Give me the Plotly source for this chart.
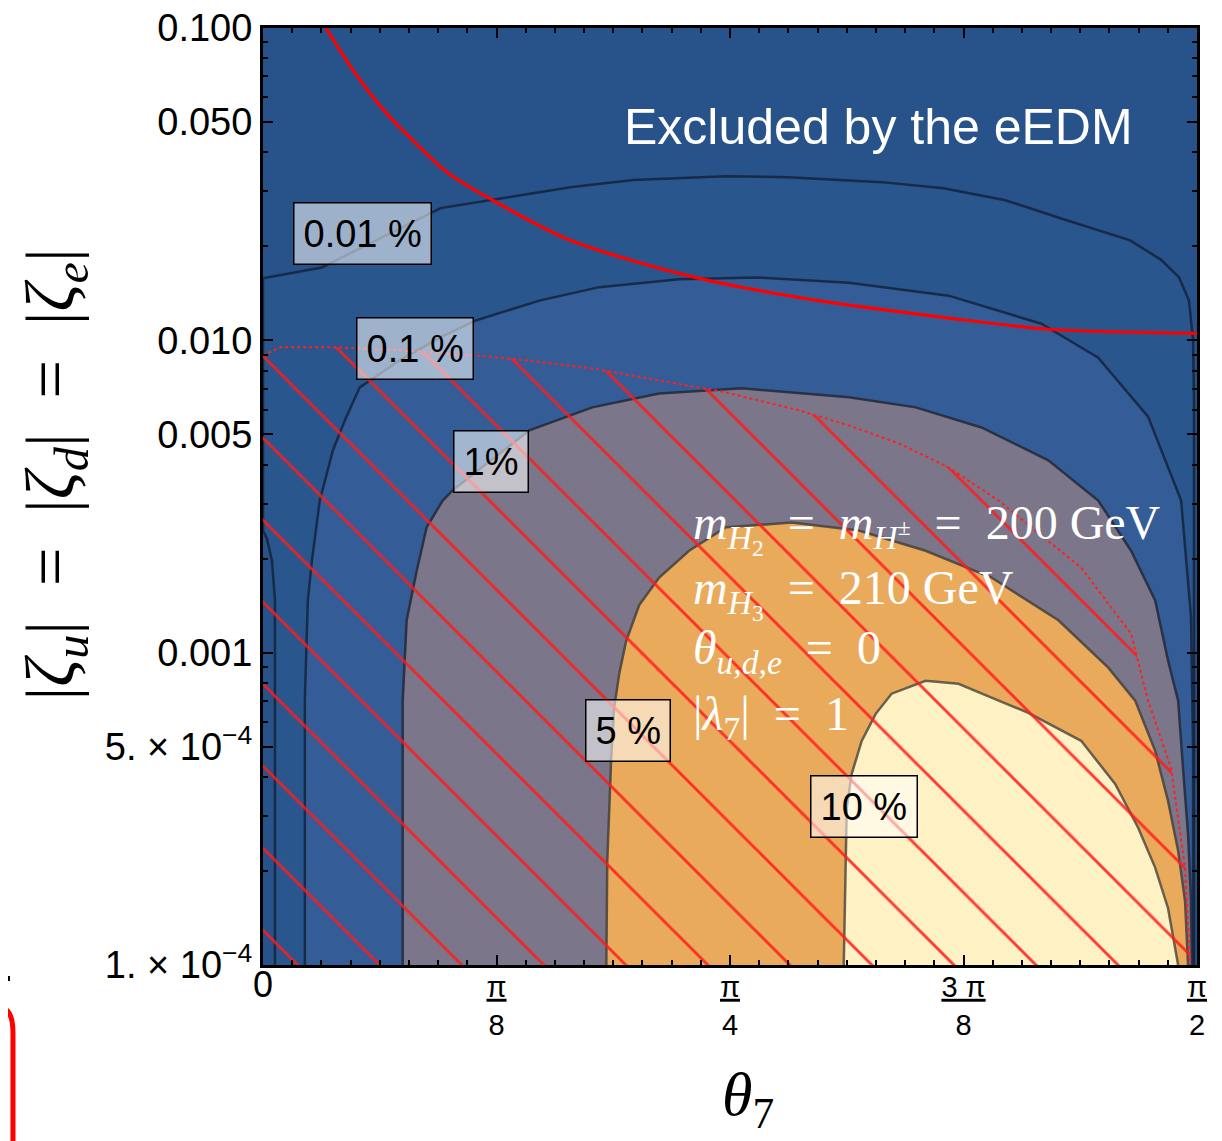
import numpy as np
import plotly.graph_objects as go

# ---------------- data ----------------
# x values are theta_7 in units of pi, y values are |zeta|

# contour 0.01 % (outer boundary, incl. thin strip at the left edge)
theta_001 = [0.0064, 0.0064, 0.0048, 0.0021, 0, 0, 0.0315, 0.0951, 0.1314, 0.1645, 0.1982, 0.2479,
             0.2810, 0.3312, 0.3643, 0.3974, 0.4306, 0.4642, 0.4808, 0.4904, 0.4957, 0.4979, 0.4984, 0.4984]
zeta_001 = [1e-4, 0.00147, 0.00197, 0.00232, 0.00246, 0.0158, 0.0171, 0.0265, 0.0287, 0.0309, 0.0326, 0.0335,
            0.0333, 0.0321, 0.0307, 0.0281, 0.0242, 0.0209, 0.0181, 0.0159, 0.0134, 0.0100, 0.0064, 1e-4]

# contour 0.1 %
theta_01 = [0.0224, 0.0224, 0.0240, 0.0262, 0.0304, 0.0374, 0.0438, 0.0518, 0.0732, 0.0946, 0.1143, 0.1480,
            0.1800, 0.2228, 0.2644, 0.3136, 0.3670, 0.4167, 0.4471, 0.4738, 0.4915, 0.4968, 0.4979, 0.4979]
zeta_01 = [1e-4, 0.000702, 0.00147, 0.00197, 0.00307, 0.00444, 0.00554, 0.00707, 0.00863, 0.0102, 0.0116, 0.0134,
           0.0148, 0.0157, 0.0159, 0.0153, 0.0139, 0.0113, 0.0088, 0.0057, 0.00307, 0.00130, 0.000485, 1e-4]

# contour 1 %
theta_1 = [0.0748, 0.0748, 0.0769, 0.0823, 0.0876, 0.0962, 0.1015, 0.1223, 0.1426, 0.1763, 0.2121, 0.2564,
           0.3136, 0.3494, 0.3846, 0.4204, 0.4471, 0.4647, 0.4776, 0.4845, 0.4899, 0.4925, 0.4952, 0.4968, 0.4973]
zeta_1 = [1e-4, 0.000702, 0.00127, 0.00183, 0.00252, 0.00307, 0.00331, 0.00413, 0.00515, 0.00610, 0.00676, 0.00702,
          0.00657, 0.00610, 0.00526, 0.00413, 0.00307, 0.00212, 0.00147, 0.000943, 0.000702, 0.000428, 0.000263,
          0.000160, 1e-4]

# contour 5 %
theta_5 = [0.1838, 0.1843, 0.1854, 0.1864, 0.1880, 0.1907, 0.1944, 0.2014, 0.2121, 0.2281, 0.2479, 0.2831,
           0.3189, 0.3547, 0.3900, 0.4258, 0.4525, 0.4669, 0.4776, 0.4845, 0.4899, 0.4936, 0.4952]
zeta_5 = [1e-4, 0.000215, 0.000319, 0.000461, 0.000666, 0.000856, 0.00109, 0.00142, 0.00174, 0.00212, 0.00252,
          0.00261, 0.00246, 0.00212, 0.00174, 0.00127, 0.000895, 0.000702, 0.000485, 0.000335, 0.000232,
          0.000160, 1e-4]

# contour 10 %
theta_10 = [0.3109, 0.3120, 0.3125, 0.3152, 0.3205, 0.3280, 0.3365, 0.3547, 0.3723, 0.3900, 0.4097, 0.4380,
            0.4562, 0.4685, 0.4776, 0.4845, 0.4899]
zeta_10 = [1e-4, 0.000215, 0.000319, 0.000410, 0.000522, 0.000637, 0.000739, 0.000813, 0.000795, 0.000718,
           0.000642, 0.000522, 0.000380, 0.000275, 0.000205, 0.000152, 1e-4]

# hatched region (upper / right boundary)
theta_hatch = [0, 0.0091, 0.0395, 0.0732, 0.1197, 0.1410, 0.1763, 0.2121, 0.2479, 0.2869, 0.3136, 0.3403,
               0.3670, 0.3937, 0.4113, 0.4380, 0.4647, 0.4738, 0.4861, 0.4936, 0.4963]
zeta_hatch = [0.00895, 0.0095, 0.0095, 0.00929, 0.00889, 0.00863, 0.00813, 0.00744, 0.00681, 0.00597, 0.00534,
              0.00468, 0.00392, 0.00307, 0.00252, 0.00187, 0.00115, 0.000702, 0.000428, 0.000205, 1e-4]

# eEDM exclusion line
theta_edm = [0.0315, 0.0481, 0.0646, 0.0817, 0.0983, 0.1229, 0.1645, 0.2313, 0.2975, 0.3643, 0.4204, 0.5]
zeta_edm = [0.105, 0.0734, 0.0546, 0.0428, 0.0346, 0.0281, 0.0209, 0.0159, 0.0134, 0.01185, 0.01085, 0.01053]

# contour labels
label_text = ["0.01 %", "0.1 %", "1%", "5 %", "10 %"]
label_theta = [0.0534, 0.0812, 0.1223, 0.1955, 0.3216]
label_zeta = [0.0220, 0.00943, 0.0041, 0.000562, 0.000321]

# parameter text
EQ = "\u2002=\u2002"
param_lines = [
    "<i>m</i><sub><i>H</i><sub>2</sub></sub>" + EQ + "<i>m</i><sub><i>H</i><sup>±</sup></sub>" + EQ + "200 GeV",
    "<i>m</i><sub><i>H</i><sub>3</sub></sub>" + EQ + "210 GeV",
    "<i>θ</i><sub><i>u,d,e</i></sub>" + EQ + "0",
    "|<i>λ</i><sub>7</sub>|" + EQ + "1",
]
param_theta = 0.2292
param_zeta = [0.00250, 0.00155, 0.00101, 0.000624]

excl_text = "Excluded by the eEDM"
excl_theta, excl_zeta = 0.3296, 0.0482

x_title = "<i>θ</i><sub>7</sub>"
y_title = ("|<i>ζ</i><sub><i>u</i></sub>|" + EQ + "|<i>ζ</i><sub><i>d</i></sub>|" + EQ +
           "|<i>ζ</i><sub><i>e</i></sub>|")

# axis ticks
x_tickvals = [0, 0.125, 0.25, 0.375, 0.5]
x_ticktext = ["<span style='font-size:36px'>0</span>",
              "<span style='text-decoration:underline'>π</span><br>8",
              "<span style='text-decoration:underline'>π</span><br>4",
              "<span style='text-decoration:underline'>3 π</span><br>8",
              "<span style='text-decoration:underline'>π</span><br>2"]
y_tickvals = [1e-4, 5e-4, 1e-3, 5e-3, 1e-2, 5e-2, 1e-1]
y_ticktext = ["1. × 10<sup>−4</sup>", "5. × 10<sup>−4</sup>", "0.001", "0.005", "0.010", "0.050", "0.100"]
y_minor = [m * 10.0 ** e for e in (-4, -3, -2) for m in (2, 3, 4, 6, 7, 8, 9)]

# ---------------- styling ----------------
C_BG = "#27528a"
fills = [
    (theta_001, zeta_001, "#2a568e", "rgba(20,35,60,0.85)"),
    (theta_01, zeta_01, "#345d98", "rgba(20,35,60,0.85)"),
    (theta_1, zeta_1, "#7b7689", "rgba(35,40,55,0.85)"),
    (theta_5, zeta_5, "#eaaa5c", "rgba(70,65,60,0.85)"),
    (theta_10, zeta_10, "#fef1c3", "rgba(80,75,65,0.85)"),
]

fig = go.Figure()
for t, z, fc, lc in fills:
    fig.add_trace(go.Scatter(x=t, y=z, mode="lines", fill="toself", fillcolor=fc,
                             line=dict(color=lc, width=2.5), hoverinfo="skip", showlegend=False))

# hatched region
fig.add_trace(go.Scatter(x=theta_hatch + [0], y=zeta_hatch + [1e-4], mode="lines", fill="toself",
                         fillcolor="rgba(0,0,0,0)",
                         fillpattern=dict(shape="\\", fgcolor="#ff1a1a", fgopacity=0.85, size=58, solidity=0.05),
                         line=dict(width=0, color="rgba(0,0,0,0)"), hoverinfo="skip", showlegend=False))
fig.add_trace(go.Scatter(x=theta_hatch, y=zeta_hatch, mode="lines",
                         line=dict(color="#ff2020", width=2, dash="dot"), hoverinfo="skip", showlegend=False))

# eEDM line
fig.add_trace(go.Scatter(x=theta_edm, y=zeta_edm, mode="lines",
                         line=dict(color="#ff0000", width=3.2, shape="spline", smoothing=0.8),
                         hoverinfo="skip", showlegend=False))

annotations = []
for txt, tx, zy in zip(label_text, label_theta, label_zeta):
    annotations.append(dict(x=tx, y=np.log10(zy), xref="x", yref="y", text=txt, showarrow=False,
                            font=dict(family="Liberation Sans", size=38, color="black"),
                            bgcolor="rgba(255,255,255,0.55)", bordercolor="black", borderwidth=1.5,
                            borderpad=9))
for txt, zy in zip(param_lines, param_zeta):
    annotations.append(dict(x=param_theta, y=np.log10(zy), xref="x", yref="y", text=txt, showarrow=False,
                            xanchor="left", yanchor="middle",
                            font=dict(family="Liberation Serif", size=48, color="white")))
annotations.append(dict(x=excl_theta, y=np.log10(excl_zeta), xref="x", yref="y", text=excl_text,
                        showarrow=False, font=dict(family="Liberation Sans", size=50, color="white")))
annotations.append(dict(x=0.519, y=-0.142, xref="paper", yref="paper", text=x_title, showarrow=False,
                        xanchor="center", yanchor="middle",
                        font=dict(family="Liberation Serif", size=62, color="black")))
annotations.append(dict(x=-0.222, y=0.523, xref="paper", yref="paper", text=y_title, showarrow=False,
                        textangle=-90, xanchor="center", yanchor="middle",
                        font=dict(family="Liberation Serif", size=69, color="black")))

fig.update_layout(
    width=1214, height=1133,
    margin=dict(l=255, r=25, t=20, b=176, autoexpand=False),
    paper_bgcolor="white", plot_bgcolor=C_BG,
    showlegend=False,
    annotations=annotations,
    shapes=[
        dict(type="path", xref="paper", yref="paper",
             path="M -0.30,-0.0459 L -0.2816,-0.0459 Q -0.2677,-0.0459 -0.2677,-0.0726 L -0.2677,-0.21",
             line=dict(color="#ff0000", width=5)),
        dict(type="rect", xref="paper", yref="paper", x0=-0.2752, x1=-0.2709, y0=-0.0171, y1=-0.0117,
             fillcolor="black", line=dict(width=0)),
    ],
)
fig.update_xaxes(range=[0, 0.5], tickvals=x_tickvals, ticktext=x_ticktext,
                 ticks="inside", ticklen=10, tickwidth=2, tickcolor="black",
                 minor=dict(dtick=1 / 64, ticks="inside", ticklen=5, tickwidth=1.5, tickcolor="black"),
                 showline=True, linewidth=3, linecolor="black", mirror="allticks",
                 showgrid=False, zeroline=False, ticklabelstandoff=-6, ticklabeloverflow="allow",
                 tickfont=dict(family="Liberation Sans", size=29, color="black"))
fig.update_yaxes(type="log", range=[-4, -1], tickvals=y_tickvals, ticktext=y_ticktext,
                 ticks="inside", ticklen=10, tickwidth=2, tickcolor="black",
                 minor=dict(tickvals=y_minor, ticks="inside", ticklen=5, tickwidth=1.5, tickcolor="black"),
                 showline=True, linewidth=3, linecolor="black", mirror="allticks",
                 showgrid=False, zeroline=False, ticklabelstandoff=0, ticklabeloverflow="allow",
                 tickfont=dict(family="Liberation Sans", size=38, color="black"))

fig.write_html("out.html")
